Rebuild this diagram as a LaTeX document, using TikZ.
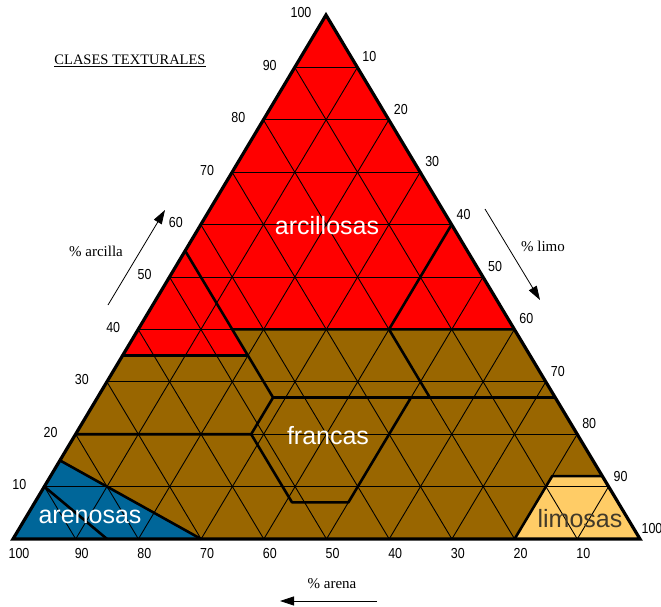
\documentclass[tikz,border=0pt]{standalone}
\usepackage{fontspec}
\setmainfont{Liberation Serif}
\newfontfamily\classfont{Liberation Sans}
\newfontfamily\ticksans[FakeStretch=0.86]{Liberation Sans}
\usetikzlibrary{arrows.meta}

\definecolor{arcred}{RGB}{255,0,0}
\definecolor{francbrown}{RGB}{153,102,0}
\definecolor{arenblue}{RGB}{0,102,153}
\definecolor{limyellow}{RGB}{255,204,102}
\definecolor{limtext}{RGB}{66,58,42}

\begin{document}
\begin{tikzpicture}[x=1pt,y=-1pt,
  gridline/.style={line width=0.9pt},
  boundary/.style={line width=2.6pt,line join=round},
  outline/.style={line width=3.2pt,line join=miter},
  ticklbl/.style={font=\ticksans\fontsize{14.5}{14.5}\selectfont,inner sep=0pt},
  axislbl/.style={font=\fontsize{15}{15}\selectfont,inner sep=0pt,anchor=base},
  classlbl/.style={font=\classfont\fontsize{25}{25}\selectfont,inner sep=0pt,anchor=base},
  axisarrow/.style={line width=0.8pt,-{Triangle[length=14pt,width=9pt]}}]

\useasboundingbox (0,0) rectangle (661,607);

% corners of the texture triangle (weights below are fractions of sand, silt, clay)
\coordinate (sandv) at (13,539);
\coordinate (siltv) at (640,539);
\coordinate (clayv) at (326,15);

% base fill (francas) and the other texture groups
\fill[francbrown] (sandv) -- (siltv) -- (clayv) -- cycle;
\fill[arcred] (clayv)
  -- (barycentric cs:sandv=0.65,siltv=0,clayv=0.35)
  -- (barycentric cs:sandv=0.45,siltv=0.20,clayv=0.35)
  -- (barycentric cs:sandv=0.45,siltv=0.15,clayv=0.40)
  -- (barycentric cs:sandv=0,siltv=0.60,clayv=0.40) -- cycle;
\fill[arenblue] (sandv)
  -- (barycentric cs:sandv=0.85,siltv=0,clayv=0.15)
  -- (barycentric cs:sandv=0.70,siltv=0.30,clayv=0) -- cycle;
\fill[limyellow] (siltv)
  -- (barycentric cs:sandv=0.20,siltv=0.80,clayv=0)
  -- (barycentric cs:sandv=0.08,siltv=0.80,clayv=0.12)
  -- (barycentric cs:sandv=0,siltv=0.88,clayv=0.12) -- cycle;

% 10 % grid in the three directions
\foreach \k in {1,...,9}{
  \pgfmathsetmacro\f{\k/10}
  \pgfmathsetmacro\g{1-\k/10}
  \draw[gridline] (barycentric cs:sandv=\g,siltv=0,clayv=\f) -- (barycentric cs:sandv=0,siltv=\g,clayv=\f);
  \draw[gridline] (barycentric cs:sandv=\f,siltv=\g,clayv=0) -- (barycentric cs:sandv=\f,siltv=0,clayv=\g);
  \draw[gridline] (barycentric cs:sandv=\g,siltv=\f,clayv=0) -- (barycentric cs:sandv=0,siltv=\f,clayv=\g);
}

% texture class boundaries
\draw[boundary] (barycentric cs:sandv=0.65,siltv=0,clayv=0.35) -- (barycentric cs:sandv=0.45,siltv=0.20,clayv=0.35);
\draw[boundary] (barycentric cs:sandv=0.45,siltv=0,clayv=0.55) -- (barycentric cs:sandv=0.45,siltv=0.28,clayv=0.27);
\draw[boundary] (barycentric cs:sandv=0.45,siltv=0.15,clayv=0.40) -- (barycentric cs:sandv=0,siltv=0.60,clayv=0.40);
\draw[boundary] (barycentric cs:sandv=0.20,siltv=0.40,clayv=0.40) -- (barycentric cs:sandv=0,siltv=0.40,clayv=0.60);
\draw[boundary] (barycentric cs:sandv=0.20,siltv=0.40,clayv=0.40) -- (barycentric cs:sandv=0.20,siltv=0.53,clayv=0.27);
\draw[boundary] (barycentric cs:sandv=0.45,siltv=0.28,clayv=0.27) -- (barycentric cs:sandv=0,siltv=0.73,clayv=0.27);
\draw[boundary] (barycentric cs:sandv=0.80,siltv=0,clayv=0.20)
  -- (barycentric cs:sandv=0.52,siltv=0.28,clayv=0.20)
  -- (barycentric cs:sandv=0.45,siltv=0.28,clayv=0.27);
\draw[boundary] (barycentric cs:sandv=0.52,siltv=0.28,clayv=0.20)
  -- (barycentric cs:sandv=0.52,siltv=0.41,clayv=0.07)
  -- (barycentric cs:sandv=0.43,siltv=0.50,clayv=0.07)
  -- (barycentric cs:sandv=0.23,siltv=0.50,clayv=0.27);
\draw[boundary] (barycentric cs:sandv=0.85,siltv=0,clayv=0.15) -- (barycentric cs:sandv=0.70,siltv=0.30,clayv=0);
\draw[boundary] (barycentric cs:sandv=0.90,siltv=0,clayv=0.10) -- (barycentric cs:sandv=0.85,siltv=0.15,clayv=0);
\draw[boundary] (barycentric cs:sandv=0.20,siltv=0.80,clayv=0)
  -- (barycentric cs:sandv=0.08,siltv=0.80,clayv=0.12)
  -- (barycentric cs:sandv=0,siltv=0.88,clayv=0.12);

% outer triangle
\draw[outline] (sandv) -- (siltv) -- (clayv) -- cycle;

% scale numbers
\foreach \k in {1,...,10}{
  \pgfmathsetmacro\f{\k/10}
  \pgfmathsetmacro\g{1-\k/10}
  \pgfmathtruncatemacro\n{10*\k}
  \node[ticklbl,xshift=-25pt,yshift=2pt] (clay\n) at (barycentric cs:sandv=\g,siltv=0,clayv=\f) {\n};
  \node[ticklbl,xshift=12pt,yshift=10.5pt] (silt\n) at (barycentric cs:sandv=0,siltv=\f,clayv=\g) {\n};
  \node[ticklbl,xshift=6pt,yshift=-14.5pt] (sand\n) at (barycentric cs:sandv=\f,siltv=\g,clayv=0) {\n};
}

% title
\node[axislbl,font=\fontsize{14.5}{15}\selectfont] (title) at (130,65) {\underline{CLASES TEXTURALES}};

% axis captions and direction arrows
\node[axislbl] (lblclay) at (96,256) {\% arcilla};
\node[axislbl] (lblsilt) at (543,251) {\% limo};
\node[axislbl] (lblsand) at (332,588.7) {\% arena};

\coordinate (clayA) at (108,305);
\coordinate (clayB) at (165,210);
\coordinate (siltA) at (485,209);
\coordinate (siltB) at (540,300);
\coordinate (sandA) at (377,601);
\coordinate (sandB) at (280,601);
\draw[axisarrow] (clayA) -- (clayB);
\draw[axisarrow] (siltA) -- (siltB);
\draw[axisarrow] (sandA) -- (sandB);

% class names
\node[classlbl,text=white] (arcillosas) at (327,234) {arcillosas};
\node[classlbl,text=white] (francas) at (328,444) {francas};
\node[classlbl,text=white] (arenosas) at (90,523) {arenosas};
\node[classlbl,text=limtext] (limosas) at (580,527) {limosas};

\end{tikzpicture}
\end{document}
